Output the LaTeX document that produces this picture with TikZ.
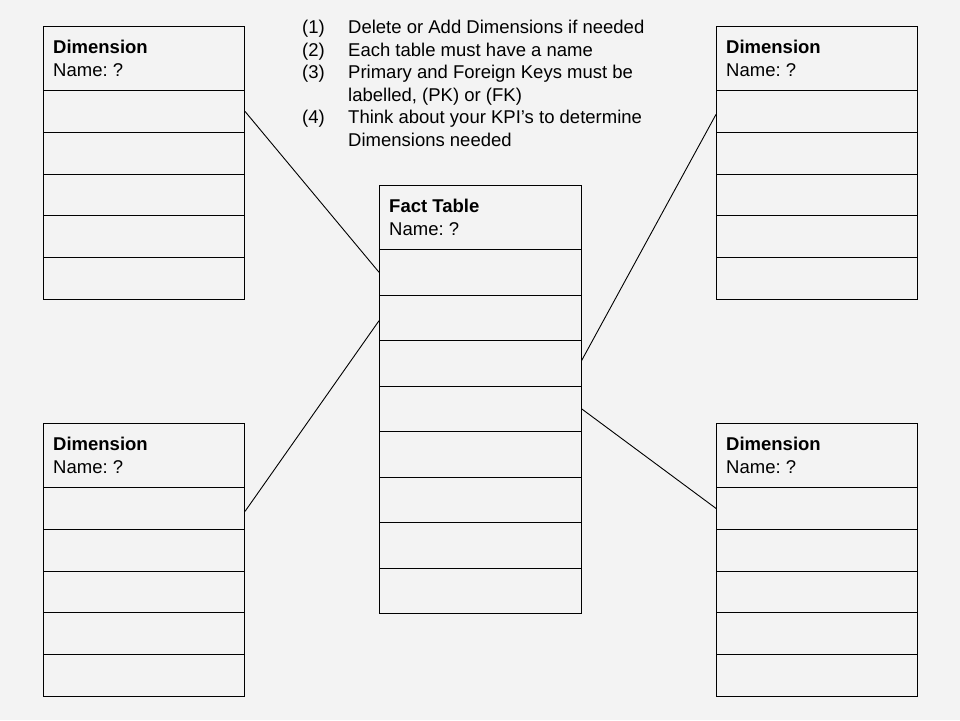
\documentclass[tikz,border=0pt]{standalone}
\usepackage{fontspec}
\setmainfont{Liberation Sans}
\frenchspacing
\definecolor{bgcol}{RGB}{243,243,243}
\begin{document}
\begin{tikzpicture}[x=1pt,y=-1pt,
  cell/.style={draw=black, line width=1pt, rectangle, minimum width=201pt, inner sep=0pt, anchor=north west},
  hdr/.style={cell, minimum height=64pt},
  drow/.style={cell, minimum height=41.8pt},
  frow/.style={cell, minimum height=45.5pt},
  ttl/.style={anchor=base west, inner sep=0pt, font=\fontsize{18.5}{22}\selectfont\bfseries},
  sub/.style={anchor=base west, inner sep=0pt, font=\fontsize{18.5}{22}\selectfont},
  item/.style={anchor=base west, inner sep=0pt, font=\fontsize{18.5}{22}\selectfont},
  link/.style={draw=black, line width=0.9pt}]
\fill[bgcol] (0,0) rectangle (960,720);
\useasboundingbox (0,0) rectangle (960,720);
% dimension tables
\foreach \nm/\x/\y in {tl/43/26, bl/43/423, tr/716/26, br/716/423}{
  \node[hdr] (\nm0) at (\x,\y) {};
  \node[ttl] (\nm t) at ([shift={(10pt,-27pt)}]\nm0.north west) {Dimension};
  \node[sub] (\nm n) at ([shift={(10pt,-50.5pt)}]\nm0.north west) {Name: ?};
  \foreach \i in {1,...,5}{
    \node[drow] (\nm\i) at (\x,{\y+64+41.8*(\i-1)}) {};
  }
}
% fact table
\node[hdr, minimum width=201.5pt] (f0) at (379,185) {};
\node[ttl] (ft) at ([shift={(10pt,-27pt)}]f0.north west) {Fact Table};
\node[sub] (fn) at ([shift={(10pt,-50.5pt)}]f0.north west) {Name: ?};
\foreach \i in {1,...,8}{
  \node[frow, minimum width=201.5pt] (f\i) at (379,{249+45.5*(\i-1)}) {};
}
% connectors
\draw[link] (tl1.east) -- (f1.west);
\draw[link] ([yshift=-3pt]bl1.east) -- ([yshift=-3pt]f2.west);
\draw[link] ([yshift=2.5pt]f3.east) -- ([yshift=-3pt]tr1.west);
\draw[link] (f4.east) -- (br1.west);
% instructions
\node[item] (n1) at (302,33.5) {(1)};
\node[item] (i1) at (348,33.5) {Delete or Add Dimensions if needed};
\node[item] (n2) at (302,56.1) {(2)};
\node[item] (i2) at (348,56.1) {Each table must have a name};
\node[item] (n3) at (302,78.7) {(3)};
\node[item] (i3) at (348,78.7) {Primary and Foreign Keys must be};
\node[item] (i3b) at (348,101.3) {labelled, (PK) or (FK)};
\node[item] (n4) at (302,123.9) {(4)};
\node[item] (i4) at (348,123.9) {Think about your KPI’s to determine};
\node[item] (i4b) at (348,146.5) {Dimensions needed};
\end{tikzpicture}
\end{document}
